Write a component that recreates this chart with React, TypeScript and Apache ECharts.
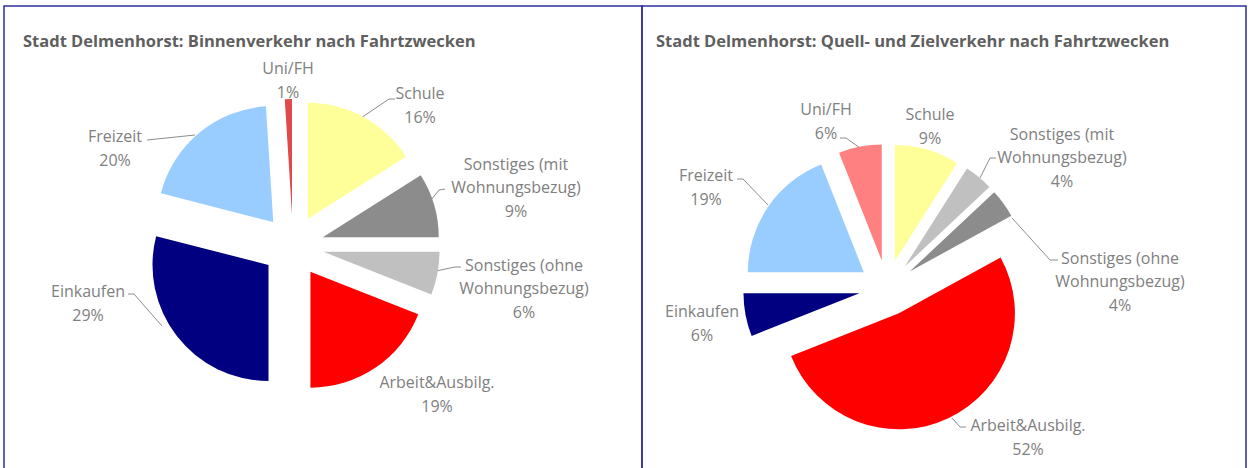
import React, { useEffect, useRef } from "react";
import * as echarts from "echarts";

const TITLE_LEFT = "Stadt Delmenhorst: Binnenverkehr nach Fahrtzwecken";
const TITLE_RIGHT = "Stadt Delmenhorst: Quell- und Zielverkehr nach Fahrtzwecken";

const CATEGORIES = [
  "Schule",
  "Sonstiges (mit\nWohnungsbezug)",
  "Sonstiges (ohne\nWohnungsbezug)",
  "Arbeit&Ausbilg.",
  "Einkaufen",
  "Freizeit",
  "Uni/FH",
];
const VALUES_LEFT = [16, 9, 6, 19, 29, 20, 1];
const VALUES_RIGHT = [9, 4, 4, 52, 6, 19, 6];

const COLORS_LEFT = ["#ffff99", "#8c8c8c", "#c0c0c0", "#ff0000", "#000080", "#99ccff", "#e04a4a"];
const COLORS_RIGHT = ["#ffff99", "#c0c0c0", "#8c8c8c", "#ff0000", "#000080", "#99ccff", "#ff8080"];

// label block centres (layout only)
const LABEL_POS_LEFT = [[420, 105], [516, 187], [524, 288], [437, 394], [88, 303], [115, 148], [288, 80]];
const LABEL_POS_RIGHT = [[930, 126], [1062, 157], [1120, 281], [1028, 437], [702, 323], [706, 187], [826, 121]];

// leader lines (layout only); null = no leader
const LEADERS_LEFT: (number[][] | null)[] = [
  [[395, 99], [389, 99], [361, 118]],
  [[445, 189], [439, 190], [431, 200]],
  [[461, 267], [455, 267], [436, 271]],
  null,
  [[128, 294], [134, 294], [162, 326]],
  [[147, 140], [195, 135]],
  null,
];
const LEADERS_RIGHT: (number[][] | null)[] = [
  null,
  [[996, 158], [990, 158], [980, 178]],
  [[1058, 260], [1050, 260], [1012, 218]],
  [[966, 427], [960, 427], [952, 418]],
  null,
  [[737, 179], [743, 179], [768, 205]],
  [[840, 138], [846, 138], [860, 148]],
];

const FONT = "Open Sans";
const LABEL_COLOR = "#808080";
const BORDER = "#2e2e9e";

function pieSeries(
  values: number[],
  colors: string[],
  center: [number, number],
  radius: number,
  offset: number
) {
  return {
    type: "pie",
    center,
    radius,
    startAngle: 90,
    clockwise: true,
    selectedMode: "multiple",
    selectedOffset: offset,
    avoidLabelOverlap: false,
    emphasis: { disabled: true },
    select: { itemStyle: { borderWidth: 0 } },
    label: { show: false },
    labelLine: { show: false },
    data: CATEGORIES.map((name, i) => ({
      name,
      value: values[i],
      selected: true,
      itemStyle: { color: colors[i] },
    })),
  };
}

function labelGraphics(values: number[], pos: number[][], leaders: (number[][] | null)[]) {
  const out: any[] = [];
  CATEGORIES.forEach((name, i) => {
    out.push({
      type: "text",
      silent: true,
      style: {
        text: `${name}\n${values[i]}%`,
        x: pos[i][0],
        y: pos[i][1],
        textAlign: "center",
        textVerticalAlign: "middle",
        fill: LABEL_COLOR,
        font: `16px "${FONT}"`,
        lineHeight: 23.5,
      },
    });
    const l = leaders[i];
    if (l) {
      out.push({
        type: "polyline",
        silent: true,
        shape: { points: l },
        style: { stroke: "#8c8c8c", lineWidth: 1, fill: "none" },
      });
    }
  });
  return out;
}

export default function App() {
  const ref = useRef<HTMLDivElement>(null);
  useEffect(() => {
    if (!ref.current) return;
    const chart = echarts.init(ref.current, undefined, { renderer: "svg" });
    const titleStyle = { color: "#5f5f5f", fontSize: 16.5, fontWeight: "bold", fontFamily: FONT };
    chart.setOption({
      animation: false,
      backgroundColor: "#ffffff",
      title: [
        { text: TITLE_LEFT, left: 18, top: 27, textStyle: titleStyle },
        { text: TITLE_RIGHT, left: 651, top: 27, textStyle: titleStyle },
      ],
      graphic: [
        {
          type: "rect",
          silent: true,
          shape: { x: 4, y: 6, width: 638, height: 480 },
          style: { fill: "none", stroke: BORDER, lineWidth: 1.5 },
        },
        {
          type: "rect",
          silent: true,
          shape: { x: 642, y: 6, width: 604, height: 480 },
          style: { fill: "none", stroke: BORDER, lineWidth: 1.5 },
        },
        ...labelGraphics(VALUES_LEFT, LABEL_POS_LEFT, LEADERS_LEFT),
        ...labelGraphics(VALUES_RIGHT, LABEL_POS_RIGHT, LEADERS_RIGHT),
      ],
      series: [
        pieSeries(VALUES_LEFT, COLORS_LEFT, [293, 246], 116, 31),
        pieSeries(VALUES_RIGHT, COLORS_RIGHT, [887, 288], 116, 28),
      ],
    });
    return () => chart.dispose();
  }, []);
  return (
    <div
      ref={ref}
      style={{ position: "absolute", left: 0, top: 0, width: 1252, height: 468 }}
    />
  );
}
